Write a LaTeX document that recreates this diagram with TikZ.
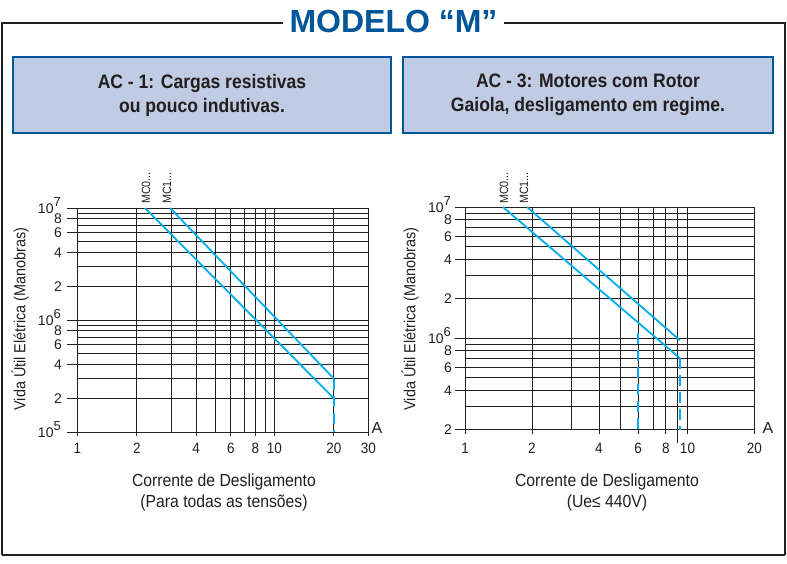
\documentclass[tikz,border=0pt]{standalone}
\usepackage{fontspec}
\setmainfont{Liberation Sans}
\newfontfamily\condfont[FakeStretch=0.9]{Liberation Sans}
\definecolor{titleblue}{RGB}{0,86,152}
\definecolor{curveblue}{RGB}{0,174,239}
\definecolor{boxfill}{RGB}{192,203,228}
\definecolor{inkgray}{RGB}{35,31,32}
\newcommand\decade[1]{10\raisebox{0.5em}{\fontsize{13}{13}\selectfont#1}}

\begin{document}
\begin{tikzpicture}[x=1pt,y=-1pt,
    declare function={xa(\v)=77.5+197*log10(\v); ya(\l)=208+112*(7-\l);
                      xb(\v)=465+222.5*log10(\v); yb(\l)=207+131*(7-\l);},
    grid/.style={draw=inkgray,line width=0.9pt},
    curve/.style={draw=curveblue,line width=1.8pt},
    cutoff/.style={draw=curveblue,line width=2pt,dash pattern=on 11pt off 6pt},
    frame/.style={draw=inkgray,line width=1.4pt},
    heading/.style={draw=titleblue,line width=1.8pt,fill=boxfill,minimum height=76pt,
        text=inkgray,align=center,font=\condfont\fontsize{19.5}{24}\selectfont\bfseries},
    ylab/.style={anchor=base east,inner sep=0pt,text=inkgray,font=\fontsize{14}{14}\selectfont},
    xlab/.style={anchor=base,inner sep=0pt,text=inkgray,font=\condfont\fontsize{15}{15}\selectfont},
    unitlab/.style={inner sep=0pt,text=inkgray,font=\fontsize{16}{16}\selectfont},
    axtitle/.style={rotate=90,inner sep=0pt,text=inkgray,font=\condfont\fontsize{16}{16}\selectfont},
    series/.style={rotate=90,anchor=west,inner sep=0pt,text=inkgray,font=\condfont\fontsize{12}{12}\selectfont},
    caption/.style={align=center,text=inkgray,font=\condfont\fontsize{17.5}{21}\selectfont}]
  \useasboundingbox (0,0) rectangle (787,563);

  % frame and title
  \node[text=titleblue,font=\fontsize{32}{32}\selectfont\bfseries,inner xsep=6pt,inner ysep=0pt]
      (title) at (393.5,21.5) {MODELO “M”};
  \coordinate (tl) at (2,23);
  \coordinate (tr) at (785,23);
  \coordinate (bl) at (2,555);
  \coordinate (br) at (785,555);
  \draw[frame] (title.west |- tl) -- (tl) -- (bl);
  \draw[frame] (title.east |- tr) -- (tr) -- (br);
  \draw[frame,line width=2.6pt] (bl) -- (br);

  \node[heading,minimum width=378pt] (boxA) at (202,95) {AC - 1: Cargas resistivas\\ou pouco indutivas.};
  \node[heading,minimum width=370pt] (boxB) at (588,95) {AC - 3: Motores com Rotor\\Gaiola, desligamento em regime.};

  % left chart: AC-1
  \foreach \e in {5,6} {
    \foreach \m in {1,...,9} {
      \draw[grid] ({xa(1)},{ya(\e+log10(\m))}) -- ({xa(30)},{ya(\e+log10(\m))});
    }}
  \draw[grid] ({xa(1)},{ya(7)}) -- ({xa(30)},{ya(7)});
  \foreach \v in {1,2,3,4,5,6,7,8,9,10,20,30} {
    \draw[grid] ({xa(\v)},{ya(7)}) -- ({xa(\v)},{ya(5)});
  }
  \foreach \e in {5,6} {
    \foreach \m [count=\i] in {2,4,6,8} {
      \draw[grid] (67,{ya(\e+log10(\m))}) -- ({xa(1)},{ya(\e+log10(\m))});
      \node[ylab] (la\e-\i) at (62,{ya(\e+log10(\m))+5}) {\m};
    }}
  \foreach \e in {5,6,7} {
    \draw[grid] (67,{ya(\e)}) -- ({xa(1)},{ya(\e)});
    \node[ylab] (la\e) at (61,{ya(\e)+5}) {\decade{\e}};
  }
  \foreach \v in {1,2,4,6,8,10,20,30} {
    \draw[grid] ({xa(\v)},{ya(5)}) -- ({xa(\v)},{ya(5)+4});
    \node[xlab] (xa\v) at ({xa(\v)},453) {\v};
  }
  \node[unitlab] (unitA) at (377,428) {A};
  \node[axtitle] (titleA) at (20,319) {Vida Útil Elétrica (Manobras)};

  \coordinate (a0s) at ({xa(2.2)},{ya(7)});
  \coordinate (a0e) at ({xa(20)},{ya(5+log10(2))});
  \coordinate (a1s) at ({xa(2.95)},{ya(7)});
  \coordinate (a1e) at ({xa(20)},{ya(5+log10(3))});
  \coordinate (a1b) at ({xa(20)},{ya(5)});
  \draw[curve] (a0s) -- (a0e);
  \draw[curve] (a1s) -- (a1e);
  \draw[cutoff] (a1e) -- (a1b);
  \node[series] (mcA0) at (146,204) {MC0...};
  \node[series] (mcA1) at (167,204) {MC1...};

  % right chart: AC-3
  \foreach \m in {2,...,9} {
    \draw[grid] ({xb(1)},{yb(5+log10(\m))}) -- ({xb(20)},{yb(5+log10(\m))});
  }
  \foreach \m in {1,...,9} {
    \draw[grid] ({xb(1)},{yb(6+log10(\m))}) -- ({xb(20)},{yb(6+log10(\m))});
  }
  \draw[grid] ({xb(1)},{yb(7)}) -- ({xb(20)},{yb(7)});
  \foreach \v in {1,2,3,4,5,6,7,8,9,10,20} {
    \draw[grid] ({xb(\v)},{yb(7)}) -- ({xb(\v)},{yb(5+log10(2))});
  }
  \foreach \e in {5,6} {
    \foreach \m [count=\i] in {2,4,6,8} {
      \draw[grid] (455,{yb(\e+log10(\m))}) -- ({xb(1)},{yb(\e+log10(\m))});
      \node[ylab] (lb\e-\i) at (452,{yb(\e+log10(\m))+5}) {\m};
    }}
  \foreach \e in {6,7} {
    \draw[grid] (455,{yb(\e)}) -- ({xb(1)},{yb(\e)});
    \node[ylab] (lb\e) at (451,{yb(\e)+5}) {\decade{\e}};
  }
  \foreach \v in {1,2,4,6,8,10,20} {
    \draw[grid] ({xb(\v)},{yb(5+log10(2))}) -- ({xb(\v)},{yb(5+log10(2))+4});
    \node[xlab] (xb\v) at ({xb(\v)},453) {\v};
  }
  \draw[grid] ({xb(9.05)},{yb(5+log10(2))}) -- ({xb(9.05)},443);
  \node[unitlab] (unitB) at (768,428) {A};
  \node[axtitle] (titleB) at (410,319) {Vida Útil Elétrica (Manobras)};

  \coordinate (b0s) at ({xb(1.48)},{yb(7)});
  \coordinate (b0e) at ({xb(9.25)},{yb(5+log10(7))});
  \coordinate (b0b) at ({xb(9.25)},{yb(5+log10(2))});
  \coordinate (b1s) at ({xb(1.9)},{yb(7)});
  \coordinate (b1e) at ({xb(9.25)},{yb(5+log10(9.6))});
  \coordinate (b6t) at ({xb(6)},{yb(6.04)});
  \coordinate (b6b) at ({xb(6)},{yb(5+log10(2))});
  \draw[curve] (b0s) -- (b0e);
  \draw[curve] (b1s) -- (b1e);
  \draw[cutoff] (b0e) -- (b0b);
  \draw[cutoff] (b6t) -- (b6b);
  \node[series] (mcB0) at (504,204) {MC0...};
  \node[series] (mcB1) at (524,204) {MC1...};

  % captions
  \node[caption] (capA) at (224,492.5) {Corrente de Desligamento\\(Para todas as tensões)};
  \node[caption] (capB) at (607,492.5) {Corrente de Desligamento\\(Ue≤ 440V)};
\end{tikzpicture}
\end{document}
